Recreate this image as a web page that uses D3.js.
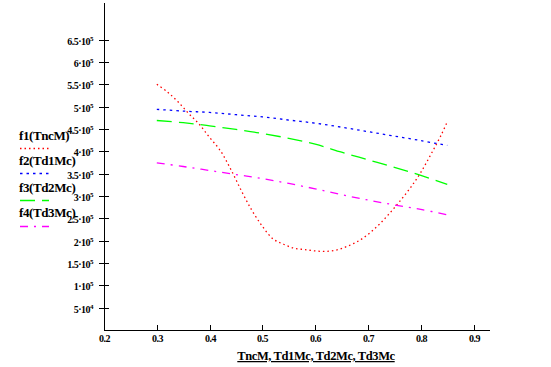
<!DOCTYPE html>
<html><head><meta charset="utf-8">
<script src="https://cdn.jsdelivr.net/npm/d3@7"></script>
<style>
html,body{margin:0;padding:0;background:#fff;}
svg{display:block;}
</style></head>
<body>
<svg id="c" width="551" height="367"></svg>
<script>
// ---- data ----
const xF1 = [0.30,0.32,0.34,0.36,0.38,0.40,0.42,0.44,0.46,0.48,0.50,0.52,0.54,0.56,0.58,0.60,0.62,0.64,0.66,0.68,0.70,0.72,0.74,0.76,0.78,0.80,0.82,0.84,0.85];
const f1 = [550000,533000,511000,485000,461000,431000,402000,360000,312000,268000,232000,204000,192000,183000,180000,177000,176000,179000,187000,198000,214000,235000,260000,288000,318000,353000,395000,440000,466000];
const xF = [0.30,0.35,0.40,0.45,0.50,0.55,0.60,0.65,0.70,0.75,0.80,0.85];
const f2 = [494000,490000,487000,482000,477000,470000,463000,454000,444000,434000,424000,413000];
const f3 = [469000,464000,457000,449000,440000,429000,416000,398000,381000,364000,346000,326000];
const f4 = [374000,366000,357000,348000,339000,328000,316000,303000,291000,280000,270000,258000];
const yTicks = [50000,100000,150000,200000,250000,300000,350000,400000,450000,500000,550000,600000,650000];
const xTicks = [0.2,0.3,0.4,0.5,0.6,0.7,0.8,0.9];
const seriesNames = ["f1(TncM)","f2(Td1Mc)","f3(Td2Mc)","f4(Td3Mc)"];
const xTitle = "TncM, Td1Mc, Td2Mc, Td3Mc";

// ---- layout ----
const FONT = "'Liberation Serif','DejaVu Serif','Times New Roman',serif";
const svg = d3.select("#c");
const x = d3.scaleLinear().domain([0.2, 0.931]).range([104, 490]);
const y = d3.scaleLinear().domain([0, 732000]).range([330, 3]);

function txt(){ return svg.append("text").attr("font-family",FONT).attr("font-weight","bold").attr("fill","#000"); }

// axes lines
svg.append("line").attr("x1",104.5).attr("x2",104.5).attr("y1",y(732000)).attr("y2",y(0)).attr("stroke","#000");
svg.append("line").attr("x1",x(0.2)).attr("x2",x(0.931)).attr("y1",330.5).attr("y2",330.5).attr("stroke","#000");

// y ticks
yTicks.forEach(v=>{
  const yy = Math.round(y(v))+0.5;
  svg.append("line").attr("x1",99).attr("x2",109).attr("y1",yy).attr("y2",yy).attr("stroke","#000");
  const e = Math.floor(Math.log10(v));
  const m = +(v/Math.pow(10,e)).toFixed(1);
  const t = txt().attr("x",93).attr("y",yy+4).attr("text-anchor","end").attr("font-size",10).attr("letter-spacing",-0.5);
  t.append("tspan").text(m+"\u00b710");
  t.append("tspan").attr("dy",-4).attr("font-size",7).text(e);
});

// x ticks
xTicks.forEach(v=>{
  const xx = Math.round(x(v))+0.5;
  svg.append("line").attr("x1",xx).attr("x2",xx).attr("y1",325).attr("y2",330).attr("stroke","#000");
  txt().attr("x",xx).attr("y",342).attr("text-anchor","middle").attr("font-size",10).attr("letter-spacing",-0.5).text(v.toFixed(1));
});

// x title
txt().attr("x",316).attr("y",360).attr("text-anchor","middle").attr("font-size",12.5)
  .attr("text-decoration","underline").attr("letter-spacing",-0.4).text(xTitle);

// series
const styles = [
  {color:"#ff0000", dash:"1.5,3"},
  {color:"#0000ff", dash:"2.5,4"},
  {color:"#00ff00", dash:"15,7"},
  {color:"#ff00ff", dash:"8,6,2,6"}
];
const data = [
  xF1.map((d,i)=>[d,f1[i]]),
  xF.map((d,i)=>[d,f2[i]]),
  xF.map((d,i)=>[d,f3[i]]),
  xF.map((d,i)=>[d,f4[i]])
];
const line = d3.line().x(d=>x(d[0])).y(d=>y(d[1])).curve(d3.curveCatmullRom);
data.forEach((s,i)=>{
  svg.append("path").attr("d",line(s)).attr("fill","none")
    .attr("stroke",styles[i].color).attr("stroke-width",1.3).attr("stroke-dasharray",styles[i].dash);
});

// legend
const legTextY = [140,165,191.5,217];
const legLineY = [148.5,173.5,200.5,226.5];
seriesNames.forEach((n,i)=>{
  txt().attr("x",19).attr("y",legTextY[i]).attr("font-size",13).attr("letter-spacing",-0.4).text(n);
  svg.append("line").attr("x1",20).attr("x2",49).attr("y1",legLineY[i]).attr("y2",legLineY[i])
    .attr("stroke",styles[i].color).attr("stroke-width",1.3).attr("stroke-dasharray",styles[i].dash);
});
</script>
</body></html>
